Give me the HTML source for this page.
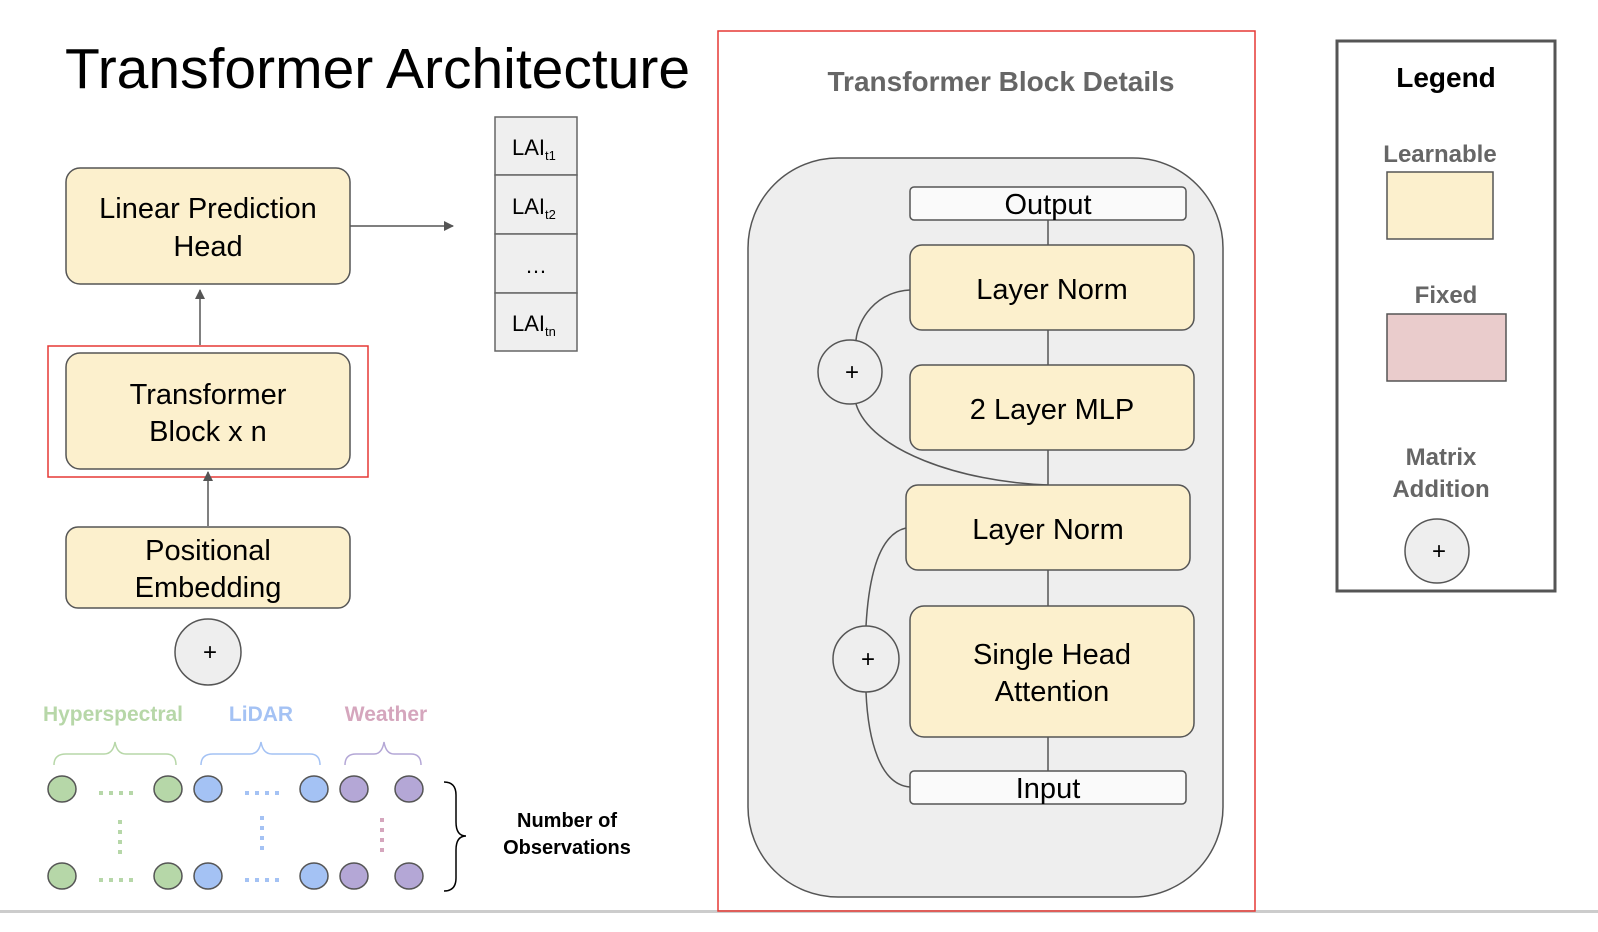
<!DOCTYPE html>
<html><head><style>body{margin:0;background:#fff}svg{display:block}text{font-family:"Liberation Sans",Arial,sans-serif}</style></head>
<body>
<svg width="1598" height="932" viewBox="0 0 1598 932" xmlns="http://www.w3.org/2000/svg">
<defs><marker id="ah" markerWidth="10" markerHeight="10" refX="9" refY="5" orient="auto" markerUnits="userSpaceOnUse"><path d="M0,0 L10,5 L0,10 z" fill="#555"/></marker></defs>
<rect x="0" y="910" width="1598" height="3" fill="#ccc"/>
<text x="65" y="88" font-size="57" fill="#000">Transformer Architecture</text>
<g stroke="#555" stroke-width="1.5" fill="#fcf0cd">
<rect x="66" y="168" width="284" height="116" rx="14"/>
<rect x="66" y="353" width="284" height="116" rx="14"/>
<rect x="66" y="527" width="284" height="81" rx="12"/>
</g>
<g font-size="29" text-anchor="middle" fill="#000">
<text x="208" y="218">Linear Prediction</text><text x="208" y="256">Head</text>
<text x="208" y="404">Transformer</text><text x="208" y="441">Block x n</text>
<text x="208" y="560">Positional</text><text x="208" y="597">Embedding</text>
</g>
<rect x="48" y="346" width="320" height="131" fill="none" stroke="#e53935" stroke-width="1.5"/>
<g stroke="#555" stroke-width="1.5">
<line x1="350" y1="226" x2="453" y2="226" marker-end="url(#ah)"/>
<line x1="200" y1="345" x2="200" y2="290" marker-end="url(#ah)"/>
<line x1="208" y1="526" x2="208" y2="472" marker-end="url(#ah)"/>
</g>
<g stroke="#666" stroke-width="1.5" fill="#efefef">
<rect x="495" y="117" width="82" height="58"/><rect x="495" y="175" width="82" height="59"/>
<rect x="495" y="234" width="82" height="59"/><rect x="495" y="293" width="82" height="58"/>
</g>
<g font-size="22" fill="#000">
<text x="512" y="155">LAI<tspan font-size="13" dy="5">t1</tspan></text>
<text x="512" y="214">LAI<tspan font-size="13" dy="5">t2</tspan></text>
<text x="536" y="273" text-anchor="middle">…</text>
<text x="512" y="331">LAI<tspan font-size="13" dy="5">tn</tspan></text>
</g>
<circle cx="208" cy="652" r="33" fill="#eee" stroke="#555" stroke-width="1.5"/>
<text x="210" y="660" font-size="24" text-anchor="middle">+</text>
<g font-size="21" font-weight="bold" text-anchor="middle">
<text x="113" y="721" fill="#b7d7a8">Hyperspectral</text>
<text x="261" y="721" fill="#a4c2f4">LiDAR</text>
<text x="386" y="721" fill="#d5a6bd">Weather</text>
</g>
<g fill="none" stroke-width="1.5">
<path d="M54,765 Q54,754 66,754 L104,754 Q113,754 115,742 Q117,754 126,754 L166,754 Q176,754 176,765" stroke="#b7d7a8"/>
<path d="M201,765 Q201,754 213,754 L250,754 Q259,754 261,742 Q263,754 272,754 L310,754 Q320,754 320,765" stroke="#a4c2f4"/>
<path d="M345,765 Q345,754 356,754 L374,754 Q382,754 384,742 Q386,754 394,754 L411,754 Q421,754 421,765" stroke="#b4a7d6"/>
<path d="M444,782 Q456,782 456,795 L456,822 Q456,836 466,836 Q456,836 456,850 L456,878 Q456,891 444,891" stroke="#000"/>
</g>
<g stroke="#555" stroke-width="1.5">
<g fill="#b6d7a8"><ellipse cx="62" cy="789" rx="14" ry="13"/><ellipse cx="168" cy="789" rx="14" ry="13"/><ellipse cx="62" cy="876" rx="14" ry="13"/><ellipse cx="168" cy="876" rx="14" ry="13"/></g>
<g fill="#a4c2f4"><ellipse cx="208" cy="789" rx="14" ry="13"/><ellipse cx="314" cy="789" rx="14" ry="13"/><ellipse cx="208" cy="876" rx="14" ry="13"/><ellipse cx="314" cy="876" rx="14" ry="13"/></g>
<g fill="#b4a7d6"><ellipse cx="354" cy="789" rx="14" ry="13"/><ellipse cx="409" cy="789" rx="14" ry="13"/><ellipse cx="354" cy="876" rx="14" ry="13"/><ellipse cx="409" cy="876" rx="14" ry="13"/></g>
</g>
<g stroke-width="4" stroke-dasharray="4,6">
<line x1="99" y1="793" x2="134" y2="793" stroke="#b6d7a8"/><line x1="99" y1="880" x2="134" y2="880" stroke="#b6d7a8"/>
<line x1="245" y1="793" x2="280" y2="793" stroke="#a4c2f4"/><line x1="245" y1="880" x2="280" y2="880" stroke="#a4c2f4"/>
<line x1="120" y1="820" x2="120" y2="856" stroke="#b6d7a8"/>
<line x1="262" y1="816" x2="262" y2="850" stroke="#a4c2f4"/>
<line x1="382" y1="818" x2="382" y2="852" stroke="#d5a6bd"/>
</g>
<g font-size="20" font-weight="bold" text-anchor="middle"><text x="567" y="827">Number of</text><text x="567" y="854">Observations</text></g>
<rect x="718" y="31" width="537" height="880" fill="none" stroke="#e53935" stroke-width="1.5"/>
<text x="1001" y="91" font-size="28" font-weight="bold" fill="#666" text-anchor="middle">Transformer Block Details</text>
<rect x="748" y="158" width="475" height="739" rx="90" fill="#eee" stroke="#555" stroke-width="1.5"/>
<line x1="1048" y1="220" x2="1048" y2="771" stroke="#555" stroke-width="1.5"/>
<g fill="none" stroke="#555" stroke-width="1.5">
<path d="M910,290 C875,292 858,320 856,340"/>
<path d="M856,404 C870,450 960,482 1048,485"/>
<path d="M906,528 C875,535 868,590 866,626"/>
<path d="M866,692 C868,740 880,785 910,787"/>
</g>
<g stroke="#555" stroke-width="1.5">
<rect x="910" y="187" width="276" height="33" rx="4" fill="#fafafa"/>
<rect x="910" y="771" width="276" height="33" rx="4" fill="#fafafa"/>
<g fill="#fcf0cd">
<rect x="910" y="245" width="284" height="85" rx="12"/>
<rect x="910" y="365" width="284" height="85" rx="12"/>
<rect x="906" y="485" width="284" height="85" rx="12"/>
<rect x="910" y="606" width="284" height="131" rx="14"/>
</g>
<g fill="#eee"><circle cx="850" cy="372" r="32"/><circle cx="866" cy="659" r="33"/></g>
</g>
<g font-size="29" text-anchor="middle" fill="#000">
<text x="1048" y="214">Output</text>
<text x="1052" y="299">Layer Norm</text>
<text x="1052" y="419">2 Layer MLP</text>
<text x="1048" y="539">Layer Norm</text>
<text x="1052" y="664">Single Head</text><text x="1052" y="701">Attention</text>
<text x="1048" y="798">Input</text>
<text x="852" y="380" font-size="24">+</text><text x="868" y="667" font-size="24">+</text>
</g>
<rect x="1337" y="41" width="218" height="550" fill="none" stroke="#555" stroke-width="3"/>
<text x="1446" y="87" font-size="28" font-weight="bold" text-anchor="middle">Legend</text>
<g font-size="24" font-weight="bold" fill="#666" text-anchor="middle">
<text x="1440" y="162">Learnable</text><text x="1446" y="303">Fixed</text>
<text x="1441" y="465">Matrix</text><text x="1441" y="497">Addition</text>
</g>
<rect x="1387" y="172" width="106" height="67" fill="#fcf0cd" stroke="#555" stroke-width="1.5"/>
<rect x="1387" y="314" width="119" height="67" fill="#eacccc" stroke="#555" stroke-width="1.5"/>
<circle cx="1437" cy="551" r="32" fill="#eee" stroke="#555" stroke-width="1.5"/>
<text x="1439" y="559" font-size="24" text-anchor="middle">+</text>
</svg>
</body></html>
